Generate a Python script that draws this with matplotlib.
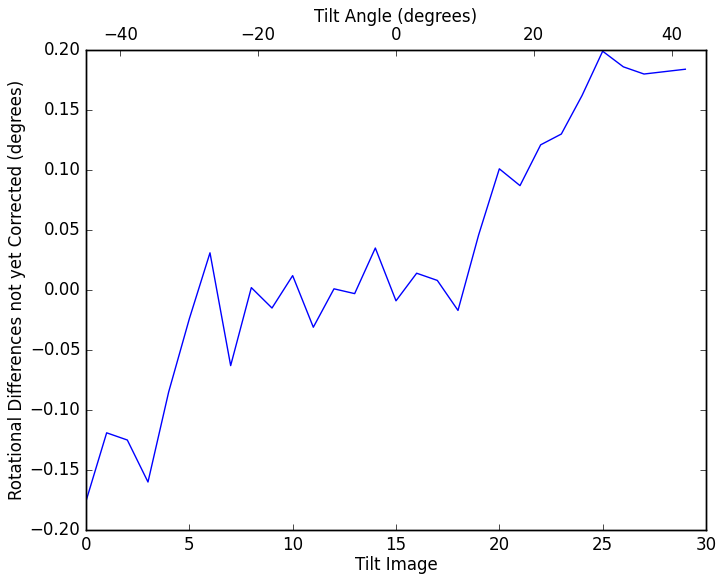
import matplotlib
matplotlib.use("Agg")
import matplotlib.pyplot as plt

# tilt series
tilt_image = list(range(30))
rot_diff = [
    -0.176, -0.119, -0.125, -0.160, -0.085, -0.024, 0.031, -0.063, 0.002, -0.015,
    0.012, -0.031, 0.001, -0.003, 0.035, -0.009, 0.014, 0.008, -0.017, 0.046,
    0.101, 0.087, 0.121, 0.130, 0.162, 0.199, 0.186, 0.180, 0.182, 0.184,
]
angle_range = (-45, 45)
image_range = (0, 30)
y_range = (-0.20, 0.20)

plt.style.use("classic")
fig = plt.figure(figsize=(7.25, 5.79), dpi=100, facecolor="white")
ax = fig.add_subplot(111)
fig.subplots_adjust(left=0.1186, right=0.9738, top=0.9136, bottom=0.0846)

ax.plot(tilt_image, rot_diff, color="b", linewidth=1)
ax.set_xlim(*image_range)
ax.set_ylim(*y_range)
ax.set_xlabel("Tilt Image", labelpad=2)
ax.set_ylabel("Rotational Differences not yet Corrected (degrees)", labelpad=3)

# top axis: tilt angle
ax2 = ax.twiny()
ax2.set_xlim(*angle_range)
ax2.set_xlabel("Tilt Angle (degrees)", labelpad=3.5)

fig.savefig("out.png", dpi=100, facecolor="white")
